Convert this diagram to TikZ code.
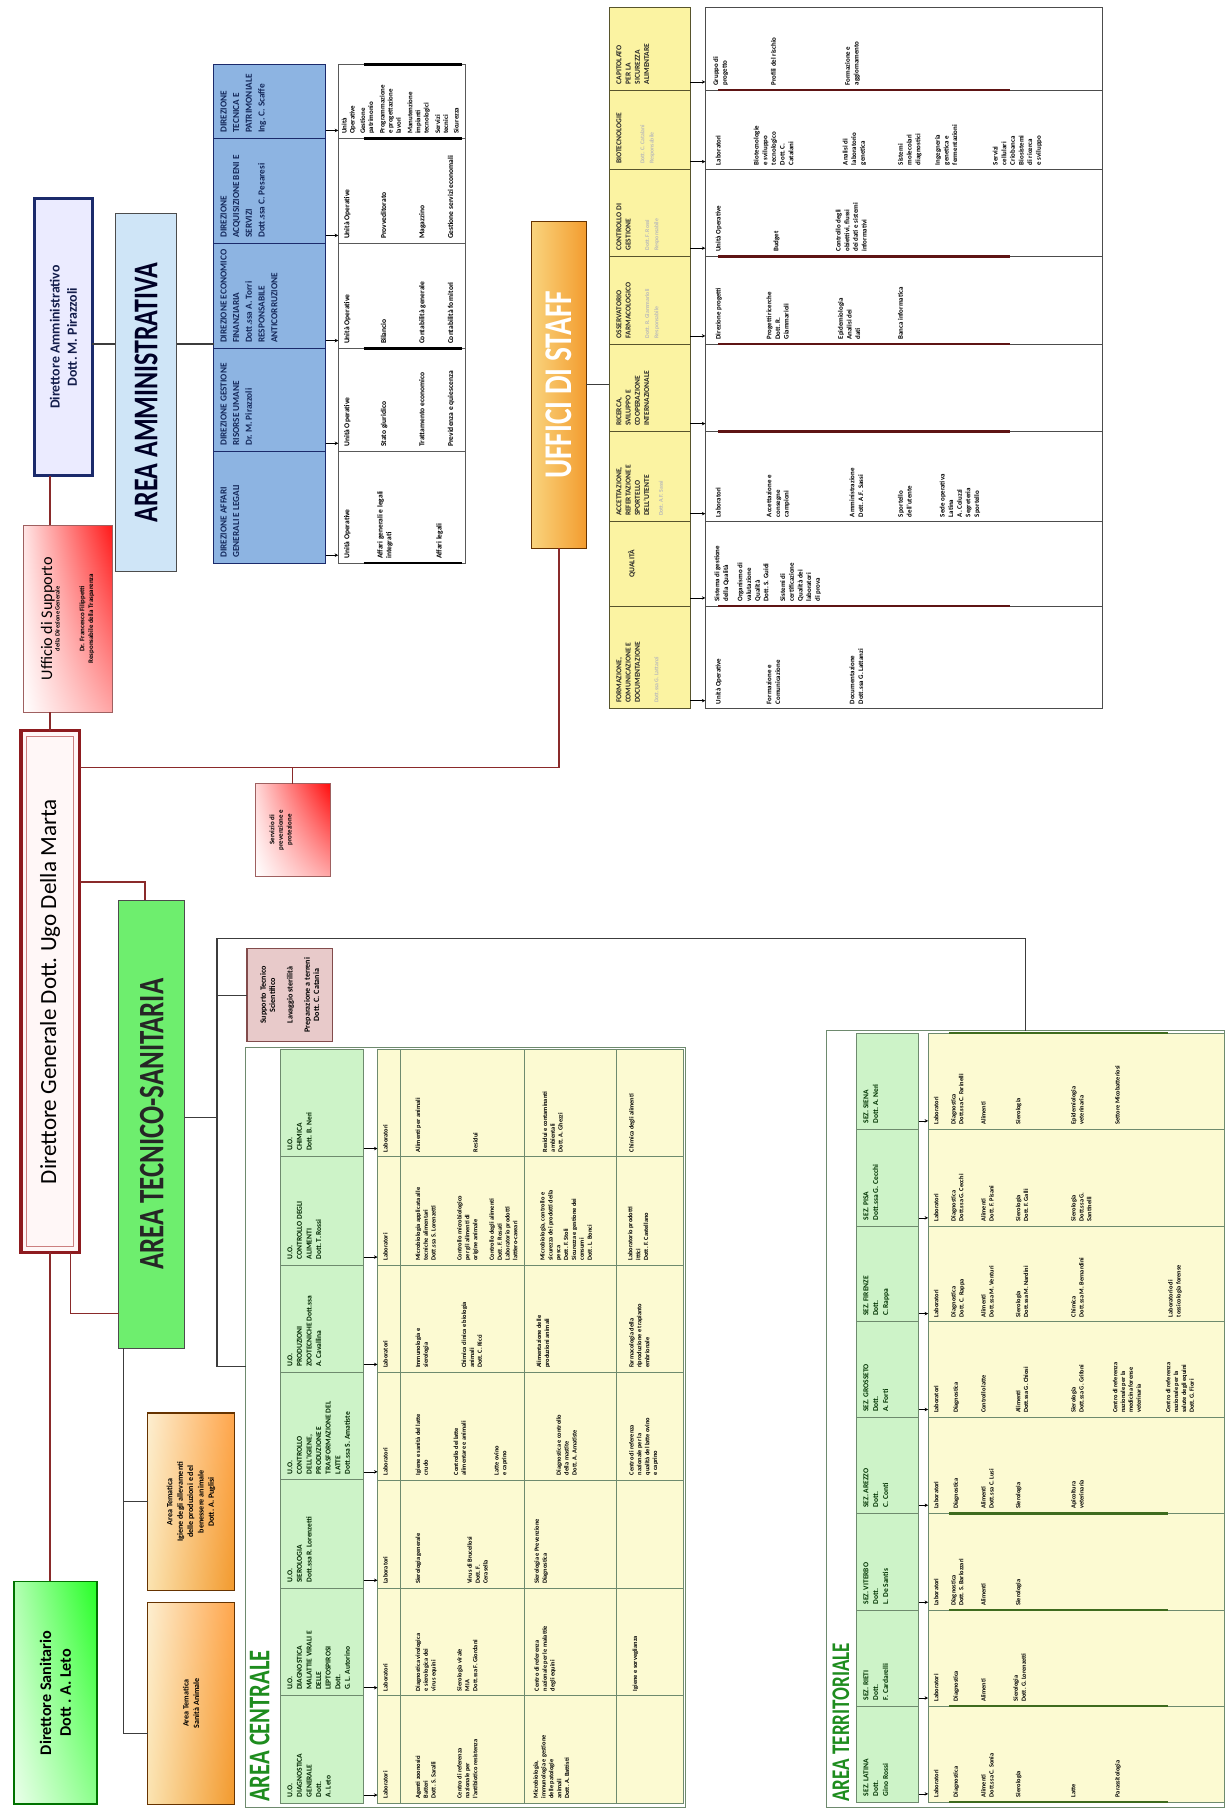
\documentclass[tikz,border=0pt]{standalone}
\usepackage{graphicx}
\usepackage{fontspec}
\setmainfont{Carlito}
\newfontfamily\ttl[FakeStretch=0.75]{Carlito}
\usetikzlibrary{shadings,arrows.meta}
\definecolor{dgred}{HTML}{8E1B1F}
\definecolor{lnred}{HTML}{8A2A2A}
\definecolor{navy}{HTML}{1B2A6B}
\definecolor{aablue}{HTML}{CFE5F7}
\definecolor{aahdr}{HTML}{8DB4E2}
\definecolor{aatext}{HTML}{14285A}
\definecolor{atsgreen}{HTML}{6EEE6E}
\definecolor{stfhdr}{HTML}{FBF3A2}
\definecolor{stfbar}{HTML}{5E1414}
\definecolor{stfL}{HTML}{F9D47E}
\definecolor{stfR}{HTML}{F39C2F}
\definecolor{achdr}{HTML}{CDF3C8}
\definecolor{acbody}{HTML}{FCFAD2}
\definecolor{acline}{HTML}{6E8A6E}
\definecolor{atbar}{HTML}{3E6B1E}
\definecolor{titgreen}{HTML}{1E8C1E}
\definecolor{suppink}{HTML}{E8CACA}
\definecolor{lingray}{HTML}{3C3C3C}
\definecolor{orgL}{HTML}{FBE3B0}
\definecolor{orgR}{HTML}{F29A2E}
\newcommand{\rtxt}[2]{\rotatebox{90}{\parbox{#1}{\centering #2}}}
\newcommand{\ltxt}[3]{\rotatebox{90}{\begin{minipage}[c][#2][t]{#1}\raggedright #3\end{minipage}}}
\newcommand{\fsz}[2]{\fontsize{#1}{#2}\selectfont}
\newcommand{\tgrp}[5]{\node[grp] (#1) at (#2,#3) {\rotatebox{90}{\parbox{#4}{\raggedright #5}}};}
\newcommand{\hcell}[7]{\node[box,#1,minimum width=#5pt,minimum height=#6pt] (#2) at (#3,#4) {\ltxt{\dimexpr#6pt-10pt\relax}{\dimexpr#5pt-12pt\relax}{#7}};}
\begin{document}
\begin{tikzpicture}[x=1pt,y=-1pt,
  box/.style={anchor=north west,inner sep=0pt,outer sep=0pt},
  rline/.style={draw=lnred,line width=1.4pt},
  kline/.style={draw=lingray,line width=0.9pt},
  arr/.style={draw=black,line width=0.5pt,-{Stealth[length=3pt,width=3pt]}},
  grp/.style={anchor=south west,inner sep=0pt,outer sep=0pt,font=\fsz{5}{6.5}\bfseries}]
\useasboundingbox[fill=white] (0,0) rectangle (1062,1568);

% ---------- left column ----------
\node[box,draw=navy,line width=2.5pt,fill=blue!8,minimum width=50pt,minimum height=240pt] (da) at (30,172)
  {\rtxt{225pt}{\color{navy!70!black}\bfseries\fsz{12}{15}Direttore Amministrativo\\Dott.\ M. Pirazzoli}};
\node[box,draw=red!25!gray,line width=0.8pt,lower left=white,upper left=red!10,lower right=red!35,upper right=red!90,minimum width=77pt,minimum height=162pt] (uff) at (20,455)
  {\rtxt{150pt}{{\fsz{14}{16}Ufficio di Supporto\par}{\fsz{5.5}{6.5}\bfseries della Direzione Generale\par}\vspace{14pt}{\fsz{6}{7.5}\bfseries Dr. Francesco Filippetti\par Responsabile della Trasparenza\par}}};
\node[box,draw=dgred,line width=3pt,fill=red!3,minimum width=51pt,minimum height=452pt] (dg) at (18,633)
  {\rtxt{430pt}{\fsz{20}{24}Direttore Generale Dott.\ Ugo Della Marta}};
\draw[red!60!black!50,line width=0.8pt] ([shift={(5pt,-5pt)}]dg.north west) rectangle ([shift={(-5pt,5pt)}]dg.south east);
\node[box,draw=green!45!black,line width=1.6pt,lower left=green!8,upper left=green!30,lower right=green!45,upper right=green!85,minimum width=72pt,minimum height=193pt] (ds) at (12,1370)
  {\rtxt{180pt}{\bfseries\fsz{14}{17}Direttore Sanitario\\Dott .\ A. Leto}};

\node[box,draw=gray!60!black,line width=1pt,fill=aablue,minimum width=53pt,minimum height=310pt] (aa) at (100,185)
  {\rtxt{300pt}{\ttl\bfseries\fsz{30}{33}\color{black!85!blue}AREA AMMINISTRATIVA}};
\node[box,draw=gray!60!black,line width=0.8pt,fill=atsgreen,minimum width=57pt,minimum height=388pt] (ats) at (103,780)
  {\rtxt{380pt}{\ttl\bfseries\fsz{31}{34}\color{black!85}AREA TECNICO-SANITARIA}};
\node[box,draw=orange!40!black,line width=0.8pt,left color=stfL,right color=stfR,minimum width=48pt,minimum height=283pt] (staff) at (460,192)
  {\rtxt{275pt}{\ttl\bfseries\fsz{34}{36}\color{white}UFFICI DI STAFF}};
\node[box,draw=red!25!gray,line width=0.8pt,lower left=white,upper left=red!15,lower right=red!35,upper right=red!95,minimum width=65pt,minimum height=80pt] (serv) at (221,679)
  {\rtxt{70pt}{\bfseries\fsz{6}{7.5}Servizio di\\prevenzione e\\protezione}\hspace*{20pt}};
\node[box,draw=red!30!black!70,line width=1pt,fill=suppink,minimum width=74pt,minimum height=80pt] (sup) at (214,822)
  {\rtxt{76pt}{\bfseries\fsz{7}{8}Supporto Tecnico\\Scientifico\par\vspace{7pt}Lavaggio sterilità\par\vspace{7pt}Preparazione a terreni\\Dott.\ C. Catania}};
\node[box,draw=orange!40!black,line width=1pt,upper left=orgL!60!white,lower left=orgL,upper right=orange!70,lower right=orgR,minimum width=75pt,minimum height=154pt] (or1) at (128,1224)
  {\rtxt{140pt}{\bfseries\fsz{7}{9}Area Tematica\\Igiene degli allevamenti\\delle produzioni e del\\benessere animale\\Dott.\ A. Puglisi}};
\node[box,draw=orange!40!black,line width=1pt,upper left=orgL!60!white,lower left=orgL,upper right=orange!70,lower right=orgR,minimum width=75pt,minimum height=175pt] (or2) at (128,1388)
  {\rtxt{160pt}{\bfseries\fsz{7}{9}Area Tematica\\Sanità Animale}};

% ---------- frames ----------
\node[box,draw=acline,line width=0.8pt,minimum width=381pt,minimum height=659pt] (acframe) at (213,907) {};
\node[box,draw=acline,line width=0.8pt,minimum width=345pt,minimum height=673pt] (atframe) at (716,893) {};
\node[anchor=south west,inner sep=0pt] (aclab) at (216,1561) {\rotatebox{90}{\ttl\bfseries\fsz{26}{28}\color{titgreen}AREA CENTRALE}};
\node[anchor=south west,inner sep=0pt] (atlab) at (721,1561) {\rotatebox{90}{\ttl\bfseries\fsz{22}{24}\color{titgreen}AREA TERRITORIALE}};

% ---------- area amministrativa table ----------
\hcell{draw=navy,line width=0.8pt,fill=aahdr,text=aatext,font=\bfseries\fsz{8}{11}}{aah1}{185}{56}{97}{64}{DIREZIONE TECNICA E PATRIMONIALE\\Ing.\ C. Scaffe}
\hcell{draw=navy,line width=0.8pt,fill=aahdr,text=aatext,font=\bfseries\fsz{8}{11}}{aah2}{185}{120}{97}{91}{DIREZIONE ACQUISIZIONE BENI E SERVIZI\\Dott.ssa C. Pesaresi}
\hcell{draw=navy,line width=0.8pt,fill=aahdr,text=aatext,font=\bfseries\fsz{8}{11}}{aah3}{185}{211}{97}{91}{DIREZIONE ECONOMICO FINANZIARIA\\Dott.ssa A. Torri\\RESPONSABILE ANTICORRUZIONE}
\hcell{draw=navy,line width=0.8pt,fill=aahdr,text=aatext,font=\bfseries\fsz{8}{11}}{aah4}{185}{302}{97}{89}{DIREZIONE GESTIONE RISORSE UMANE\\Dr.\ M. Pirazzoli}
\hcell{draw=navy,line width=0.8pt,fill=aahdr,text=aatext,font=\bfseries\fsz{8}{11}}{aah5}{185}{391}{97}{97}{DIREZIONE AFFARI GENERALI E LEGALI}
\foreach \n/\y/\h in {1/56/64,2/120/91,3/211/91,4/302/89,5/391/97}{
  \node[box,draw=gray!70!black,line width=0.6pt,fill=white,minimum width=110pt,minimum height=\h pt] (aab\n) at (293,\y) {};
  \draw[arr] ([yshift=7pt]aah\n.south east) -- ([yshift=7pt]aab\n.south west);
}
\foreach \y in {56,120,302,488} \draw[black,line width=2pt] (315,\y) -- (400,\y);
\begin{scope}[grp/.style={anchor=south west,inner sep=0pt,outer sep=0pt,font=\fsz{6.5}{7.5}\bfseries}]
\tgrp{a1a}{296}{116}{54pt}{\fsz{6}{7}Unità\\Operative}
\tgrp{a1b}{312}{116}{54pt}{\fsz{6}{7}Gestione\\patrimonio}
\tgrp{a1c}{329}{116}{54pt}{\fsz{6}{7}Programmazione\\e progettazione\\lavori}
\tgrp{a1d}{353}{116}{54pt}{\fsz{6}{7}Manutenzione\\impianti\\tecnologici}
\tgrp{a1e}{377}{116}{54pt}{\fsz{6}{7}Servizi\\tecnici}
\tgrp{a1f}{393}{116}{54pt}{\fsz{6}{7}Sicurezza}
\tgrp{a2a}{298}{207}{81pt}{Unità Operative}
\tgrp{a2b}{330}{207}{81pt}{Provveditorato}
\tgrp{a2c}{363}{207}{81pt}{Magazzino}
\tgrp{a2d}{388}{207}{81pt}{Gestione servizi economali}
\tgrp{a3a}{298}{298}{81pt}{Unità Operative}
\tgrp{a3b}{330}{298}{81pt}{Bilancio}
\tgrp{a3c}{363}{298}{81pt}{Contabilità generale}
\tgrp{a3d}{388}{298}{81pt}{Contabilità fornitori}
\tgrp{a4a}{298}{387}{79pt}{Unità Operative}
\tgrp{a4b}{330}{387}{79pt}{Stato giuridico}
\tgrp{a4c}{363}{387}{79pt}{Trattamento economico}
\tgrp{a4d}{388}{387}{79pt}{Previdenza e quiescenza}
\tgrp{a5a}{298}{484}{87pt}{Unità Operative}
\tgrp{a5b}{327}{484}{87pt}{Affari generali e legali\\integrati}
\tgrp{a5c}{378}{484}{87pt}{Affari legali}
\end{scope}

% ---------- uffici di staff table ----------
\hcell{draw=olive!50!black,line width=0.7pt,fill=stfhdr,text=black!85,font=\bfseries\fsz{6.5}{8}}{sh1}{528}{6}{70}{72}{CAPITOLATO\\PER LA\\SICUREZZA\\ALIMENTARE}
\hcell{draw=olive!50!black,line width=0.7pt,fill=stfhdr,text=black!85,font=\bfseries\fsz{6.5}{8}}{sh2}{528}{78}{70}{69}{BIOTECNOLOGIE\par\vspace{14pt}{\color{gray!55}\fsz{5}{6}Dott.\ C. Catalani\\Responsabile}}
\hcell{draw=olive!50!black,line width=0.7pt,fill=stfhdr,text=black!85,font=\bfseries\fsz{6.5}{8}}{sh3}{528}{147}{70}{75}{CONTROLLO DI\\GESTIONE\par\vspace{10pt}{\color{gray!55}\fsz{5}{6}Dott.\ F. Rossi\\Responsabile}}
\hcell{draw=olive!50!black,line width=0.7pt,fill=stfhdr,text=black!85,font=\bfseries\fsz{6.5}{8}}{sh4}{528}{222}{70}{76}{OSSERVATORIO\\FARMACOLOGICO\par\vspace{10pt}{\color{gray!55}\fsz{5}{6}Dott.\ R. Giammarioli\\Responsabile}}
\hcell{draw=olive!50!black,line width=0.7pt,fill=stfhdr,text=black!85,font=\bfseries\fsz{6.5}{8}}{sh5}{528}{298}{70}{76}{RICERCA,\\SVILUPPO E\\COOPERAZIONE\\INTERNAZIONALE}
\hcell{draw=olive!50!black,line width=0.7pt,fill=stfhdr,text=black!85,font=\bfseries\fsz{6.5}{8}}{sh6}{528}{374}{70}{78}{ACCETTAZIONE,\\REFERTAZIONE E\\SPORTELLO\\DELL'UTENTE\par\vspace{4pt}{\color{gray!55}\fsz{5}{6}Dott.\ A.F. Sassi}}
\hcell{draw=olive!50!black,line width=0.7pt,fill=stfhdr,text=black!85,font=\bfseries\fsz{6.5}{8}}{sh7}{528}{452}{70}{73}{\vspace*{10pt}{\centering QUALITÀ\par}}
\hcell{draw=olive!50!black,line width=0.7pt,fill=stfhdr,text=black!85,font=\bfseries\fsz{6.5}{8}}{sh8}{528}{525}{70}{89}{FORMAZIONE,\\COMUNICAZIONE E\\DOCUMENTAZIONE\par\vspace{8pt}{\color{gray!55}\fsz{5}{6}Dott.ssa G. Lattanzi}}
\foreach \n/\y/\h in {1/6/72,2/78/69,3/147/75,4/222/76,5/298/76,6/374/78,7/452/73,8/525/89}{
  \node[box,draw=gray!60!black,line width=0.6pt,fill=white,minimum width=344pt,minimum height=\h pt] (sb\n) at (611,\y) {};
  \draw[arr] ([yshift=7pt]sh\n.south east) -- ([yshift=7pt]sb\n.south west);
}
\foreach \y in {78,222,298,374,525} \draw[stfbar,line width=2.2pt] (622,\y) -- (875,\y);
\begin{scope}[grp/.style={anchor=south west,inner sep=0pt,outer sep=0pt,font=\fsz{6}{7.5}\bfseries}]
\tgrp{s1a}{618}{74}{62pt}{Gruppo di\\progetto}
\tgrp{s1b}{668}{74}{62pt}{Profili del rischio}
\tgrp{s1c}{732}{74}{62pt}{Formazione e\\aggiornamento}
\tgrp{s2a}{620}{143}{59pt}{Laboratori}
\tgrp{s2b}{653}{143}{59pt}{Biotecnologie\\e sviluppo\\tecnologico\\Dott.\ C.\\Catalani}
\tgrp{s2c}{730}{143}{59pt}{Analisi di\\laboratorio\\genetica}
\tgrp{s2d}{778}{143}{59pt}{Sistemi\\molecolari\\diagnostici}
\tgrp{s2e}{810}{143}{59pt}{Ingegneria\\genetica e\\fermentazioni}
\tgrp{s2f}{860}{143}{59pt}{Servizi\\cellulari\\Criobanca\\Biosistemi\\di ricerca\\e sviluppo}
\tgrp{s3a}{620}{218}{65pt}{Unità Operative}
\tgrp{s3b}{670}{218}{65pt}{Budget}
\tgrp{s3c}{724}{218}{65pt}{Controllo degli\\obiettivi, flussi\\dei dati e sistemi\\informativi}
\tgrp{s4a}{620}{294}{66pt}{Direzione progetti}
\tgrp{s4b}{664}{294}{66pt}{Progetti ricerche\\Dott.\ R.\\Giammarioli}
\tgrp{s4c}{726}{294}{66pt}{Epidemiologia\\Analisi dei\\dati}
\tgrp{s4d}{778}{294}{66pt}{Banca informatica}
\tgrp{s6a}{620}{448}{68pt}{Laboratori}
\tgrp{s6b}{664}{448}{68pt}{Accettazione e\\consegne\\campioni}
\tgrp{s6c}{736}{448}{68pt}{Amministrazione\\Dott.\ A.F. Sassi}
\tgrp{s6d}{778}{448}{68pt}{Sportello\\dell'utente}
\tgrp{s6e}{814}{448}{68pt}{Sede operativa\\Latina\\A. Coluzzi\\Segreteria\\Sportello}
\tgrp{s7a}{619}{521}{63pt}{Sistema di gestione\\della Qualità}
\tgrp{s7b}{639}{521}{63pt}{Organismo di\\valutazione\\Qualità\\Dott.\ S. Guidi}
\tgrp{s7c}{676}{521}{63pt}{Sistemi di\\certificazione\\Qualità dei\\laboratori\\di prova}
\tgrp{s8a}{620}{610}{79pt}{Unità Operative}
\tgrp{s8b}{664}{610}{79pt}{Formazione e\\Comunicazione}
\tgrp{s8c}{736}{610}{79pt}{Documentazione\\Dott.ssa G. Lattanzi}
\end{scope}

% ---------- area centrale table ----------
\hcell{draw=acline,line width=0.7pt,fill=achdr,text=black!85!green,font=\bfseries\fsz{6.5}{8.3}}{ach1}{243}{909}{72}{93}{U.O.\\CHIMICA\\Dott.\ B. Neri}
\hcell{draw=acline,line width=0.7pt,fill=achdr,text=black!85!green,font=\bfseries\fsz{6.5}{8.3}}{ach2}{243}{1002}{72}{94}{U.O.\\CONTROLLO DEGLI\\ALIMENTI\\Dott.\ T. Rossi}
\hcell{draw=acline,line width=0.7pt,fill=achdr,text=black!85!green,font=\bfseries\fsz{6.5}{8.3}}{ach3}{243}{1096}{72}{93}{U.O.\\PRODUZIONI\\ZOOTECNICHE Dott.ssa\\A. Cavallina}
\hcell{draw=acline,line width=0.7pt,fill=achdr,text=black!85!green,font=\bfseries\fsz{6.5}{8.3}}{ach4}{243}{1189}{72}{93}{U.O.\\CONTROLLO\\DELL'IGIENE,\\PRODUZIONE E\\TRASFORMAZIONE DEL\\LATTE\\Dott.ssa S. Amatiste}
\hcell{draw=acline,line width=0.7pt,fill=achdr,text=black!85!green,font=\bfseries\fsz{6.5}{8.3}}{ach5}{243}{1282}{72}{94}{U.O.\\SIEROLOGIA\\Dott.ssa R. Lorenzetti}
\hcell{draw=acline,line width=0.7pt,fill=achdr,text=black!85!green,font=\bfseries\fsz{6.5}{8.3}}{ach6}{243}{1376}{72}{93}{U.O.\\DIAGNOSTICA\\MALATTIE VIRALI E\\DELLE\\LEPTOSPIROSI\\Dott.\\G. L. Autorino}
\hcell{draw=acline,line width=0.7pt,fill=achdr,text=black!85!green,font=\bfseries\fsz{6.5}{8.3}}{ach7}{243}{1469}{72}{93}{U.O.\\DIAGNOSTICA\\GENERALE\\Dott.\\A. Leto}
\foreach \n/\y/\h in {1/909/93,2/1002/94,3/1096/93,4/1189/93,5/1282/94,6/1376/93,7/1469/93}{
  \node[box,draw=acline,line width=0.6pt,fill=acbody,minimum width=265pt,minimum height=\h pt] (acb\n) at (327,\y) {};
  \draw[arr] ([yshift=7pt]ach\n.south east) -- ([yshift=7pt]acb\n.south west);
}
\foreach \x in {347,454,534} \draw[acline,line width=0.6pt] (\x,909) -- (\x,1562);
\begin{scope}[grp/.style={anchor=south west,inner sep=0pt,outer sep=0pt,font=\fsz{5.5}{6.8}\bfseries}]
\foreach \n/\yb in {1/998,2/1092,3/1185,4/1278,5/1372,6/1465,7/1558}{\tgrp{acl\n}{332}{\yb}{80pt}{Laboratori}}
\tgrp{c1a}{360}{998}{83pt}{Alimenti per animali}
\tgrp{c1b}{410}{998}{83pt}{Residui}
\tgrp{c1c}{470}{998}{74pt}{Residui e contaminanti\\ambientali\\Dott.\ A. Ghezzi}
\tgrp{c1d}{545}{998}{83pt}{Chimica degli alimenti}
\tgrp{c2a}{360}{1092}{84pt}{Microbiologia applicata alle\\tecniche alimentari\\Dott.ssa S. Lorenzetti}
\tgrp{c2b}{396}{1092}{84pt}{Controllo microbiologico\\per gli alimenti di\\origine animale}
\tgrp{c2c}{424}{1092}{84pt}{Controllo degli alimenti\\Dott.\ F. Rosati\\Laboratorio prodotti\\lattiero-caseari}
\tgrp{c2d}{468}{1092}{84pt}{Microbiologia, controllo e\\sicurezza dei prodotti della\\pesca\\Dott.\ F. Stoli\\Sicurezza e gestione dei\\consumi\\Dott.\ L. Bonci}
\tgrp{c2e}{544}{1092}{84pt}{Laboratorio prodotti\\ittici\\Dott.\ F. Castellano}
\tgrp{c3a}{360}{1185}{83pt}{Immunologia e\\sierologia}
\tgrp{c3b}{400}{1185}{83pt}{Chimica clinica e biologia\\animali\\Dott.\ C. Ricci}
\tgrp{c3c}{465}{1185}{83pt}{Alimentazione delle\\produzioni animali}
\tgrp{c3d}{545}{1185}{83pt}{Farmacologia della\\riproduzione e trapianto\\embrionale}
\tgrp{c4a}{360}{1278}{83pt}{Igiene e sanità del latte\\crudo}
\tgrp{c4b}{393}{1278}{83pt}{Controllo del latte\\alimentare e animali}
\tgrp{c4c}{428}{1278}{83pt}{Latte ovino\\e caprino}
\tgrp{c4d}{482}{1278}{83pt}{Diagnostica e controllo\\della mastite\\Dott.\ A. Amatiste}
\tgrp{c4e}{545}{1278}{83pt}{Centro di referenza\\nazionale per la\\qualità del latte ovino\\e caprino}
\tgrp{c5a}{360}{1372}{84pt}{Sierologia generale}
\tgrp{c5b}{405}{1372}{84pt}{Virus di Brucellosi\\Dott.\ F.\\Cerasella}
\tgrp{c5c}{463}{1372}{84pt}{Sierologia e Prevenzione\\Diagnostica}
\tgrp{c6a}{360}{1465}{83pt}{Diagnostica virologica\\e sierologica dei\\virus equini}
\tgrp{c6b}{396}{1465}{83pt}{Sierologia virale\\MIA\\Dott.ssa F. Giordani}
\tgrp{c6c}{463}{1465}{83pt}{Centro di referenza\\nazionale per le malattie\\degli equini}
\tgrp{c6d}{548}{1465}{83pt}{Igiene e sorveglianza}
\tgrp{c7a}{360}{1558}{83pt}{Agenti zoonosici\\Batteri\\Dott.\ S. Saralli}
\tgrp{c7b}{396}{1558}{83pt}{Centro di referenza\\nazionale per\\l'antibiotico resistenza}
\tgrp{c7c}{462}{1558}{83pt}{Microbiologia,\\immunologia e gestione\\delle patologie\\animali\\Dott.\ A. Battisti}
\end{scope}

% ---------- area territoriale table ----------
\hcell{draw=acline,line width=0.7pt,fill=achdr,text=black!80!green,font=\bfseries\fsz{6.5}{8.5}}{ath1}{742}{895}{54}{83}{SEZ.\ SIENA\\Dott.\ A. Neri}
\hcell{draw=acline,line width=0.7pt,fill=achdr,text=black!80!green,font=\bfseries\fsz{6.5}{8.5}}{ath2}{742}{978}{54}{84}{SEZ.\ PISA\\Dott.ssa G. Cecchi}
\hcell{draw=acline,line width=0.7pt,fill=achdr,text=black!80!green,font=\bfseries\fsz{6.5}{8.5}}{ath3}{742}{1062}{54}{83}{SEZ.\ FIRENZE\\Dott.\\C. Rappa}
\hcell{draw=acline,line width=0.7pt,fill=achdr,text=black!80!green,font=\bfseries\fsz{6.5}{8.5}}{ath4}{742}{1145}{54}{83}{SEZ.\ GROSSETO\\Dott.\\A. Forti}
\hcell{draw=acline,line width=0.7pt,fill=achdr,text=black!80!green,font=\bfseries\fsz{6.5}{8.5}}{ath5}{742}{1228}{54}{83}{SEZ.\ AREZZO\\Dott.\\C. Conti}
\hcell{draw=acline,line width=0.7pt,fill=achdr,text=black!80!green,font=\bfseries\fsz{6.5}{8.5}}{ath6}{742}{1311}{54}{84}{SEZ.\ VITERBO\\Dott.\\L. De Santis}
\hcell{draw=acline,line width=0.7pt,fill=achdr,text=black!80!green,font=\bfseries\fsz{6.5}{8.5}}{ath7}{742}{1395}{54}{83}{SEZ.\ RIETI\\Dott.\\F. Cardarelli}
\hcell{draw=acline,line width=0.7pt,fill=achdr,text=black!80!green,font=\bfseries\fsz{6.5}{8.5}}{ath8}{742}{1478}{54}{83}{SEZ.\ LATINA\\Dott.\\Gino Rossi}
\foreach \n/\y/\h in {1/895/83,2/978/84,3/1062/83,4/1145/83,5/1228/83,6/1311/84,7/1395/83,8/1478/83}{
  \node[box,draw=acline,line width=0.6pt,fill=acbody,minimum width=257pt,minimum height=\h pt] (atb\n) at (804,\y) {};
  \draw[arr] ([yshift=7pt]ath\n.south east) -- ([yshift=7pt]atb\n.south west);
}
\foreach \y in {895,1311,1395,1478,1561} \draw[atbar,line width=2pt] (822,\y) -- (1012,\y);
\begin{scope}[grp/.style={anchor=south west,inner sep=0pt,outer sep=0pt,font=\fsz{5.5}{6.8}\bfseries}]
\foreach \n/\yb in {1/974,2/1058,3/1141,4/1224,5/1307,6/1391,7/1474,8/1557}{\tgrp{atl\n}{809}{\yb}{72pt}{Laboratori}}
\tgrp{t1a}{824}{974}{73pt}{Diagnostica\\Dott.ssa C. Farinelli}
\tgrp{t1b}{850}{974}{73pt}{Alimenti}
\tgrp{t1c}{880}{974}{73pt}{Sierologia}
\tgrp{t1d}{928}{974}{73pt}{Epidemiologia\\veterinaria}
\tgrp{t1e}{966}{974}{73pt}{Settore Micobatteriosi}
\tgrp{t2a}{824}{1058}{74pt}{Diagnostica\\Dott.ssa G. Cecchi}
\tgrp{t2b}{850}{1058}{74pt}{Alimenti\\Dott.\ F. Pisani}
\tgrp{t2c}{880}{1058}{74pt}{Sierologia\\Dott.\ F. Galli}
\tgrp{t2d}{928}{1058}{74pt}{Sierologia\\Dott.ssa G.\\Santinelli}
\tgrp{t3a}{824}{1141}{73pt}{Diagnostica\\Dott.\ C. Rappa}
\tgrp{t3b}{850}{1141}{73pt}{Alimenti\\Dott.ssa M. Venturi}
\tgrp{t3c}{880}{1141}{73pt}{Sierologia\\Dott.ssa M. Nardini}
\tgrp{t3d}{928}{1141}{73pt}{Chimica\\Dott.ssa M. Bernardini}
\tgrp{t3e}{1012}{1141}{73pt}{Laboratorio di\\tossicologia forense}
\tgrp{t4a}{826}{1224}{73pt}{Diagnostica}
\tgrp{t4b}{850}{1224}{73pt}{Controllo latte}
\tgrp{t4c}{880}{1224}{73pt}{Alimenti\\Dott.ssa G. Chiosi}
\tgrp{t4d}{928}{1224}{73pt}{Sierologia\\Dott.ssa G. Grifoni}
\tgrp{t4e}{964}{1224}{73pt}{Centro di referenza\\nazionale per la\\medicina forense\\veterinaria}
\tgrp{t4f}{1010}{1224}{73pt}{Centro di referenza\\nazionale per la\\salute degli equini\\Dott.\ G. Fiori}
\tgrp{t5a}{826}{1307}{73pt}{Diagnostica}
\tgrp{t5b}{850}{1307}{73pt}{Alimenti\\Dott.ssa C. Lusi}
\tgrp{t5c}{880}{1307}{73pt}{Sierologia}
\tgrp{t5d}{928}{1307}{73pt}{Apicoltura\\veterinaria}
\tgrp{t6a}{824}{1391}{74pt}{Diagnostica\\Dott.\ S. Barlozzari}
\tgrp{t6b}{850}{1391}{74pt}{Alimenti}
\tgrp{t6c}{880}{1391}{74pt}{Sierologia}
\tgrp{t7a}{826}{1474}{73pt}{Diagnostica}
\tgrp{t7b}{850}{1474}{73pt}{Alimenti}
\tgrp{t7c}{878}{1474}{73pt}{Sierologia\\Dott.\ G. Lorenzetti}
\tgrp{t8a}{826}{1557}{73pt}{Diagnostica}
\tgrp{t8b}{850}{1557}{73pt}{Alimenti\\Dott.ssa C. Sonia}
\tgrp{t8c}{880}{1557}{73pt}{Sierologia}
\tgrp{t8d}{928}{1557}{73pt}{Latte}
\tgrp{t8e}{966}{1557}{73pt}{Parassitologia}
\end{scope}

% ---------- connectors ----------
\coordinate (aay) at (0,298);
\coordinate (sty) at (0,665);
\coordinate (aty) at (0,764);
\coordinate (aly) at (0,1138);
\coordinate (busm) at (188,968);
\coordinate (bust) at (188,813);
\coordinate (busb) at (188,1184);
\coordinate (orl) at ([xshift=-24.5pt]ats.south);
\draw[rline] (dg.north |- da.south) -- (dg.north |- uff.north);
\draw[rline] (dg.north |- uff.south) -- (dg.north);
\draw[kline] (da.east |- aay) -- (aa.west |- aay);
\draw[kline] (aa.east |- aay) -- (aah4.west |- aay);
\draw[rline] (dg.east |- sty) -| (staff.south);
\draw[rline] (serv.north) -- (serv.north |- sty);
\draw[kline] (staff.east) -- (sh5.west |- staff.east);
\draw[rline] (dg.east |- aty) -| ([xshift=-6pt]ats.north);
\draw[rline] ([xshift=17.5pt]dg.south) |- (ats.west |- aly);
\draw[rline] (dg.south) -- (dg.south |- ds.north);
\draw[kline] (ats.east |- busm) -- (busm);
\draw[kline] (bust) -- (busb);
\draw[kline] (bust) -| (atframe.north);
\draw[kline] (busb) -- (acframe.west |- busb);
\draw[kline] (sup.west -| bust) -- (sup.west);
\draw[kline] (orl) |- ([yshift=-26pt]or2.west);
\draw[kline] (orl |- or1.west) -- (or1.west);
\end{tikzpicture}
\end{document}
